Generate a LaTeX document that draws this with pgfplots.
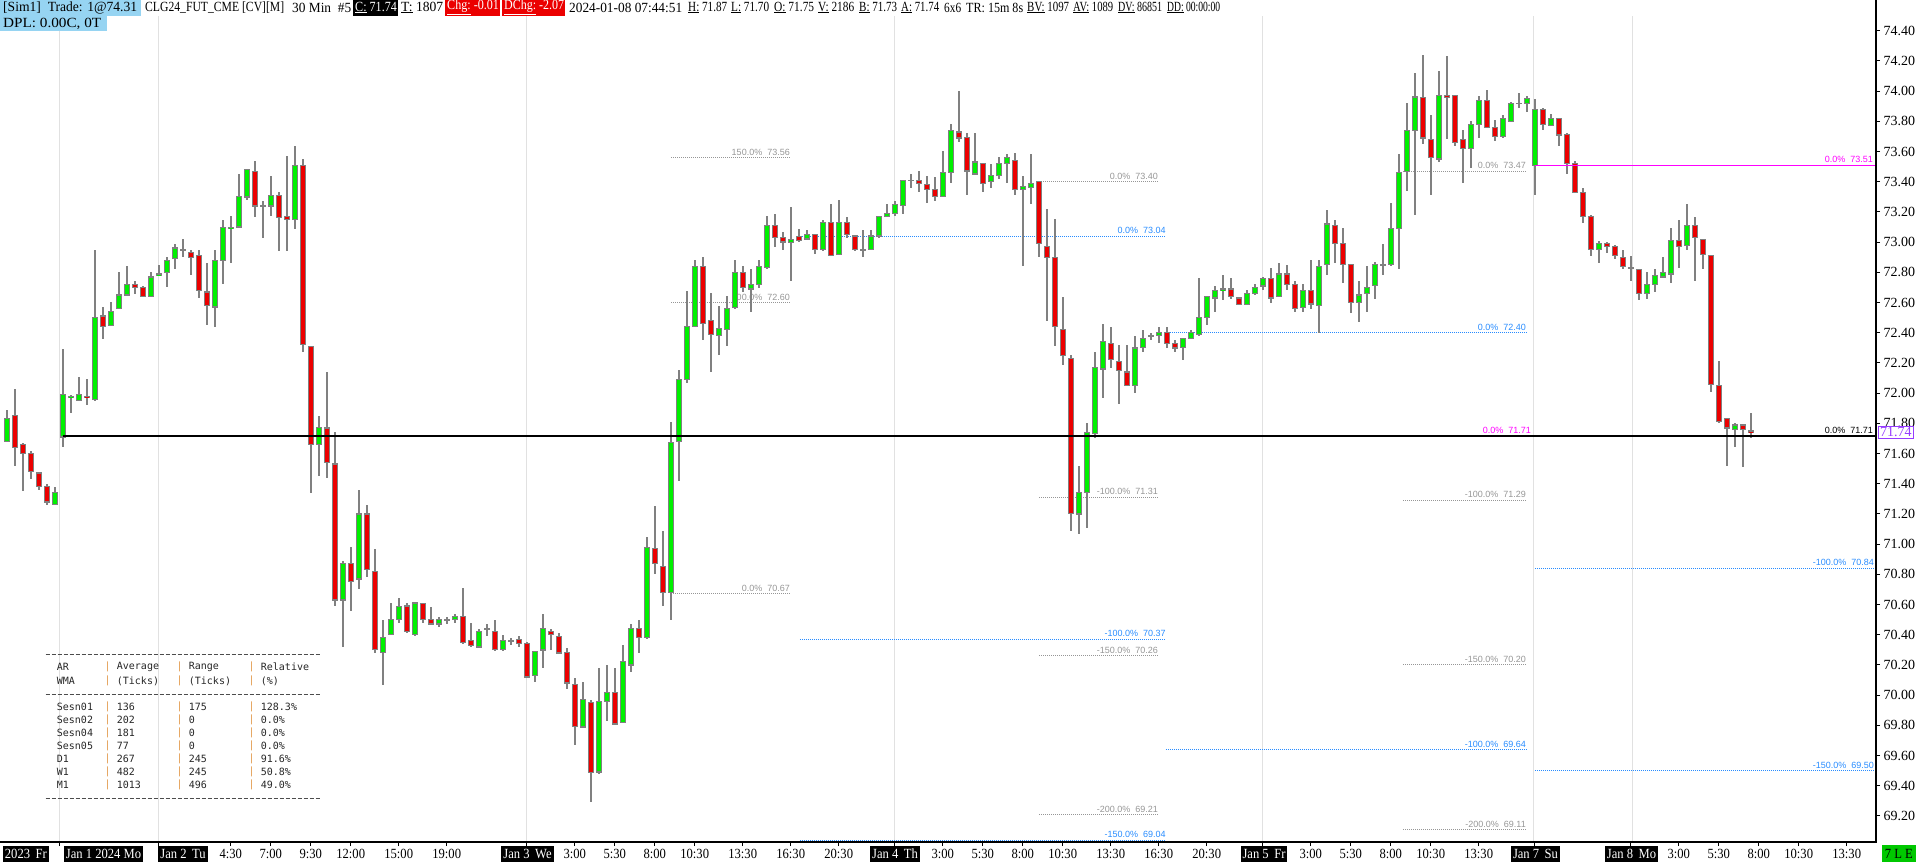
\documentclass[border=0pt]{standalone}
\usepackage{fontspec}
\setmainfont{Liberation Serif}
\setmonofont{DejaVu Sans Mono}
\newfontfamily\xlabfont[FakeStretch=0.9]{Liberation Serif}
\newfontfamily\fibfont{Liberation Sans}
\usepackage{graphicx}
\usepackage{pgfplots}
\usepackage{pgfplotstable}
\pgfplotsset{compat=1.18}

\definecolor{wick}{RGB}{128,128,128}
\definecolor{up}{RGB}{0,240,0}
\definecolor{dn}{RGB}{235,0,0}
\definecolor{fibgray}{RGB}{150,150,150}
\definecolor{fibblue}{RGB}{40,140,255}
\definecolor{mag}{RGB}{255,0,255}
\definecolor{hdrblue}{RGB}{150,212,242}
\definecolor{sepc}{RGB}{225,150,70}
\definecolor{gridc}{RGB}{225,225,225}
\definecolor{lastbox}{RGB}{150,60,255}
\definecolor{legreen}{RGB}{0,200,0}

% 30 min bars, index i = bar number
\pgfplotstableread{
i o h l c
0 71.68 71.89 71.68 71.83
1 71.85 72.03 71.52 71.64
2 71.66 71.67 71.35 71.60
3 71.60 71.62 71.43 71.48
4 71.47 71.47 71.36 71.38
5 71.38 71.40 71.26 71.28
6 71.26 71.38 71.26 71.34
7 71.71 72.29 71.64 71.99
8 71.97 71.99 71.87 71.98
9 71.95 72.11 71.95 71.99
10 71.98 72.09 71.92 71.97
11 71.96 72.95 71.95 72.50
12 72.51 72.57 72.36 72.44
13 72.45 72.60 72.45 72.54
14 72.56 72.80 72.56 72.65
15 72.65 72.84 72.65 72.72
16 72.72 72.74 72.66 72.70
17 72.70 72.71 72.64 72.64
18 72.64 72.80 72.64 72.77
19 72.78 72.85 72.78 72.79
20 72.80 72.90 72.70 72.88
21 72.89 72.99 72.82 72.96
22 72.95 73.02 72.90 72.95
23 72.93 72.95 72.78 72.90
24 72.91 72.95 72.63 72.68
25 72.67 72.86 72.45 72.58
26 72.57 72.95 72.44 72.88
27 72.88 73.15 72.72 73.10
28 73.09 73.17 72.86 73.10
29 73.10 73.45 73.09 73.30
30 73.30 73.48 73.28 73.48
31 73.47 73.54 73.17 73.24
32 73.24 73.27 73.03 73.24
33 73.24 73.44 73.17 73.31
34 73.31 73.33 72.94 73.16
35 73.17 73.57 72.94 73.15
36 73.15 73.64 73.09 73.51
37 73.51 73.55 72.27 72.32
38 72.31 72.31 71.34 71.66
39 71.66 71.85 71.45 71.77
40 71.77 72.14 71.44 71.54
41 71.53 71.74 70.59 70.63
42 70.63 70.89 70.32 70.87
43 70.87 70.98 70.56 70.75
44 70.77 71.36 70.70 71.20
45 71.20 71.26 70.78 70.83
46 70.82 70.97 70.28 70.30
47 70.28 70.50 70.07 70.38
48 70.40 70.61 70.40 70.50
49 70.50 70.64 70.48 70.59
50 70.59 70.61 70.41 70.42
51 70.40 70.61 70.39 70.61
52 70.61 70.61 70.48 70.50
53 70.50 70.58 70.47 70.47
54 70.47 70.52 70.45 70.50
55 70.50 70.52 70.47 70.50
56 70.50 70.54 70.48 70.52
57 70.52 70.71 70.34 70.35
58 70.36 70.48 70.32 70.33
59 70.32 70.44 70.32 70.42
60 70.44 70.47 70.39 70.44
61 70.42 70.50 70.29 70.30
62 70.30 70.40 70.29 70.36
63 70.36 70.38 70.33 70.36
64 70.37 70.39 70.32 70.34
65 70.34 70.35 70.12 70.12
66 70.13 70.29 70.09 70.29
67 70.30 70.54 70.18 70.44
68 70.42 70.44 70.30 70.40
69 70.39 70.41 70.27 70.28
70 70.28 70.31 70.04 70.08
71 70.07 70.11 69.67 69.79
72 69.79 70.09 69.79 69.97
73 69.95 69.97 69.29 69.49
74 69.49 70.18 69.48 69.96
75 69.96 70.20 69.83 70.02
76 70.02 70.18 69.80 69.81
77 69.82 70.33 69.82 70.22
78 70.20 70.47 70.15 70.44
79 70.44 70.50 70.28 70.38
80 70.38 71.05 70.37 70.98
81 70.97 71.25 70.80 70.87
82 70.85 71.09 70.59 70.68
83 70.68 71.81 70.50 71.67
84 71.68 72.15 71.42 72.09
85 72.09 72.68 72.07 72.44
86 72.44 72.88 72.44 72.84
87 72.84 72.90 72.35 72.46
88 72.48 72.66 72.14 72.39
89 72.38 72.58 72.25 72.43
90 72.42 72.64 72.31 72.56
91 72.57 72.88 72.56 72.80
92 72.80 72.84 72.67 72.70
93 72.69 72.82 72.54 72.72
94 72.72 72.88 72.70 72.84
95 72.83 73.17 72.82 73.11
96 73.11 73.19 72.97 73.03
97 73.03 73.07 72.95 73.00
98 73.00 73.23 72.74 73.02
99 73.04 73.09 73.00 73.01
100 73.02 73.08 73.02 73.05
101 73.05 73.05 72.92 72.95
102 72.95 73.15 72.94 73.13
103 73.13 73.25 72.91 72.91
104 72.92 73.28 72.92 73.13
105 73.13 73.17 73.03 73.05
106 73.04 73.04 72.94 72.95
107 72.95 73.08 72.90 72.95
108 72.95 73.08 72.95 73.04
109 73.04 73.17 73.03 73.17
110 73.17 73.25 73.17 73.19
111 73.19 73.27 73.17 73.25
112 73.24 73.41 73.19 73.41
113 73.41 73.45 73.36 73.41
114 73.41 73.47 73.33 73.39
115 73.38 73.44 73.26 73.35
116 73.35 73.43 73.27 73.30
117 73.30 73.60 73.30 73.46
118 73.46 73.78 73.39 73.74
119 73.73 74.00 73.66 73.69
120 73.69 73.72 73.31 73.47
121 73.45 73.72 73.45 73.53
122 73.52 73.52 73.33 73.39
123 73.40 73.52 73.36 73.44
124 73.44 73.56 73.42 73.52
125 73.52 73.58 73.39 73.56
126 73.54 73.59 73.31 73.35
127 73.35 73.44 72.84 73.37
128 73.36 73.58 73.25 73.39
129 73.40 73.40 72.90 72.99
130 72.97 73.22 72.48 72.90
131 72.90 73.15 72.31 72.44
132 72.42 72.64 72.19 72.25
133 72.23 72.25 71.09 71.20
134 71.20 71.52 71.07 71.34
135 71.34 71.80 71.11 71.74
136 71.73 72.27 71.70 72.17
137 72.16 72.46 71.97 72.34
138 72.33 72.44 72.17 72.22
139 72.21 72.32 71.93 72.15
140 72.14 72.32 72.05 72.05
141 72.05 72.38 72.00 72.30
142 72.30 72.42 72.27 72.36
143 72.38 72.40 72.35 72.38
144 72.38 72.44 72.33 72.40
145 72.40 72.44 72.30 72.33
146 72.33 72.35 72.27 72.30
147 72.30 72.36 72.22 72.36
148 72.36 72.42 72.36 72.40
149 72.39 72.76 72.38 72.50
150 72.50 72.64 72.45 72.64
151 72.63 72.71 72.54 72.68
152 72.68 72.78 72.62 72.69
153 72.69 72.76 72.62 72.64
154 72.63 72.63 72.59 72.59
155 72.59 72.68 72.59 72.66
156 72.66 72.72 72.65 72.70
157 72.71 72.77 72.68 72.76
158 72.76 72.83 72.60 72.63
159 72.64 72.86 72.64 72.79
160 72.79 72.85 72.68 72.72
161 72.72 72.74 72.54 72.56
162 72.57 72.72 72.54 72.68
163 72.68 72.88 72.56 72.59
164 72.58 72.88 72.40 72.84
165 72.85 73.21 72.78 73.12
166 73.11 73.15 72.86 72.99
167 72.99 73.09 72.73 72.85
168 72.85 72.85 72.53 72.60
169 72.60 72.74 72.47 72.65
170 72.66 72.84 72.54 72.70
171 72.71 72.87 72.62 72.85
172 72.85 72.99 72.78 72.85
173 72.85 73.26 72.84 73.09
174 73.09 73.58 72.82 73.46
175 73.47 73.92 73.34 73.74
176 73.74 74.12 73.18 73.96
177 73.96 74.24 73.65 73.69
178 73.68 73.84 73.31 73.56
179 73.55 74.13 73.53 73.97
180 73.97 74.23 73.68 73.96
181 73.97 73.97 73.64 73.66
182 73.68 73.74 73.39 73.62
183 73.62 73.80 73.49 73.78
184 73.78 73.97 73.69 73.94
185 73.94 74.01 73.76 73.76
186 73.76 73.81 73.67 73.70
187 73.70 73.84 73.69 73.82
188 73.80 73.93 73.80 73.92
189 73.92 73.99 73.89 73.92
190 73.92 73.97 73.86 73.95
191 73.51 73.95 73.31 73.88
192 73.88 73.89 73.74 73.78
193 73.77 73.85 73.77 73.82
194 73.82 73.82 73.64 73.71
195 73.71 73.72 73.45 73.52
196 73.52 73.54 73.33 73.33
197 73.33 73.36 73.13 73.17
198 73.17 73.18 72.91 72.95
199 72.95 73.01 72.86 72.99
200 72.99 73.00 72.93 72.97
201 72.97 72.98 72.89 72.91
202 72.90 72.95 72.82 72.84
203 72.83 72.91 72.74 72.83
204 72.82 72.82 72.62 72.66
205 72.66 72.80 72.62 72.72
206 72.72 72.82 72.67 72.78
207 72.77 72.90 72.77 72.80
208 72.79 73.09 72.73 73.01
209 73.01 73.15 72.83 72.97
210 72.98 73.25 72.95 73.11
211 73.11 73.17 72.74 73.03
212 73.02 73.02 72.82 72.92
213 72.91 72.91 72.01 72.06
214 72.05 72.21 71.80 71.81
215 71.83 71.83 71.52 71.77
216 71.76 71.80 71.64 71.79
217 71.79 71.79 71.51 71.76
218 71.75 71.87 71.70 71.74
}\candles

% dotted level line with its label: colour, x from, x to, price, text
\newcommand{\fibl}[5]{%
  \addplot[#1, line width=1pt, dash pattern=on 1pt off 1pt, mark=none, forget plot]
    coordinates {(#2,#4) (#3,#4)};
  \node[text=#1, font=\fibfont\fontsize{9}{9}\selectfont, anchor=south east,
        inner sep=0pt, yshift=2pt] at (axis cs:#3,#4) {#5};}
% header text squeezed to the width it takes on screen
\newcommand{\hw}[2]{\resizebox{#1pt}{\height}{#2}}

\begin{document}
\begin{tikzpicture}
\useasboundingbox (0,0) rectangle (1916pt,862pt);
\begin{axis}[
  at={(0pt,20pt)}, anchor=south west, scale only axis,
  width=1876pt, height=842pt,
  xmin=-0.8375, xmax=233.66, ymin=69.027, ymax=74.603,
  clip mode=individual,
  axis line style={draw=none},
  xtick={6.66,19,28,33,38,43,49,55,65,71,76,81,86,92,98,104,111,117,122,127,132,138,144,150,157,163,168,173,178,184,191,203,209,214,219,224,230},
  xticklabels={},
  ytick={69.2,69.4,69.6,69.8,70.0,70.2,70.4,70.6,70.8,71.0,71.2,71.4,71.6,71.8,72.0,72.2,72.4,72.6,72.8,73.0,73.2,73.4,73.6,73.8,74.0,74.2,74.4},
  xtick pos=bottom, ytick pos=right, yticklabel pos=right,
  tick align=outside, major tick length=4pt,
  tick style={black, line width=1pt},
  yticklabel style={font=\fontsize{14}{14}\selectfont,
    /pgf/number format/.cd, fixed, fixed zerofill, precision=2, assume math mode=true},
]
% day separators
\draw[gridc, line width=1pt] (axis cs:6.66,69.027) -- (axis cs:6.66,74.50);
\draw[gridc, line width=1pt] (axis cs:19,69.027) -- (axis cs:19,74.50);
\draw[gridc, line width=1pt] (axis cs:65,69.027) -- (axis cs:65,74.50);
\draw[gridc, line width=1pt] (axis cs:111,69.027) -- (axis cs:111,74.50);
\draw[gridc, line width=1pt] (axis cs:157,69.027) -- (axis cs:157,74.50);
\draw[gridc, line width=1pt] (axis cs:190.8,69.027) -- (axis cs:190.8,74.50);
\draw[gridc, line width=1pt] (axis cs:203.2,69.027) -- (axis cs:203.2,74.50);

\fibl{fibgray}{83.04}{97.91}{73.56}{150.0\%~~73.56}
\fibl{fibgray}{83.04}{97.91}{72.60}{100.0\%~~72.60}
\fibl{fibgray}{83.04}{97.91}{70.67}{0.0\%~~70.67}
\fibl{fibblue}{99.16}{144.9}{73.04}{0.0\%~~73.04}
\fibl{fibblue}{99.16}{144.9}{70.37}{-100.0\%~~70.37}
\fibl{fibblue}{99.16}{144.9}{69.04}{-150.0\%~~69.04}
\fibl{fibgray}{129.04}{143.91}{73.40}{0.0\%~~73.40}
\fibl{fibgray}{129.04}{143.91}{71.31}{-100.0\%~~71.31}
\fibl{fibgray}{129.04}{143.91}{70.26}{-150.0\%~~70.26}
\fibl{fibgray}{129.04}{143.91}{69.21}{-200.0\%~~69.21}
\fibl{fibblue}{144.9}{189.91}{72.40}{0.0\%~~72.40}
\fibl{fibblue}{144.9}{189.91}{69.64}{-100.0\%~~69.64}
\fibl{fibgray}{174.54}{189.91}{73.47}{0.0\%~~73.47}
\fibl{fibgray}{174.54}{189.91}{71.29}{-100.0\%~~71.29}
\fibl{fibgray}{174.54}{189.91}{70.20}{-150.0\%~~70.20}
\fibl{fibgray}{174.54}{189.91}{69.11}{-200.0\%~~69.11}
\fibl{fibblue}{191.04}{233.41}{70.84}{-100.0\%~~70.84}
\fibl{fibblue}{191.04}{233.41}{69.50}{-150.0\%~~69.50}

% wicks
\addplot[draw=none, mark=none, forget plot,
  error bars/.cd, y dir=both, y explicit, error mark=none,
  error bar style={draw=wick, line width=1.6pt}]
  table[x=i, y expr={(\thisrow{h}+\thisrow{l})/2}, y error expr={(\thisrow{h}-\thisrow{l})/2}] {\candles};
% body outline
\addplot[draw=none, mark=none, forget plot,
  error bars/.cd, y dir=both, y explicit, error mark=none,
  error bar style={draw=wick, line width=6pt}]
  table[x=i, y expr={(\thisrow{o}+\thisrow{c})/2}, y error expr={abs(\thisrow{o}-\thisrow{c})/2+0.004}] {\candles};
% up bodies
\addplot[draw=none, mark=none, forget plot,
  restrict expr to domain={\thisrow{c}-\thisrow{o}}{0.005:10},
  error bars/.cd, y dir=both, y explicit, error mark=none,
  error bar style={draw=up, line width=3.6pt}]
  table[x=i, y expr={(\thisrow{o}+\thisrow{c})/2}, y error expr={max(abs(\thisrow{o}-\thisrow{c})/2-0.004,0)}] {\candles};
% down bodies
\addplot[draw=none, mark=none, forget plot,
  restrict expr to domain={\thisrow{c}-\thisrow{o}}{-10:-0.005},
  error bars/.cd, y dir=both, y explicit, error mark=none,
  error bar style={draw=dn, line width=3.6pt}]
  table[x=i, y expr={(\thisrow{o}+\thisrow{c})/2}, y error expr={max(abs(\thisrow{o}-\thisrow{c})/2-0.004,0)}] {\candles};

\addplot[black, line width=1.6pt, mark=none, forget plot] coordinates {(7,71.715) (233.66,71.715)};
\addplot[mag, line width=1pt, mark=none, forget plot] coordinates {(191,73.51) (233.66,73.51)};
\node[text=mag, font=\fibfont\fontsize{9}{9}\selectfont, anchor=south east, inner sep=0pt, yshift=2pt] at (axis cs:233.29,73.51) {0.0\%~~73.51};
\node[text=mag, font=\fibfont\fontsize{9}{9}\selectfont, anchor=south east, inner sep=0pt, yshift=2pt] at (axis cs:190.54,71.715) {0.0\%~~71.71};
\node[text=black, font=\fibfont\fontsize{9}{9}\selectfont, anchor=south east, inner sep=0pt, yshift=2pt] at (axis cs:233.29,71.715) {0.0\%~~71.71};

\draw[black, line width=1.2pt] (rel axis cs:0,0) -- (rel axis cs:1,0) -- (rel axis cs:1,1);
\end{axis}

% last price box on the price scale
\node[draw=lastbox, fill=white, text=lastbox, font=\fontsize{14}{14}\selectfont,
      inner xsep=1.5pt, inner ysep=1.5pt, anchor=west, line width=1pt] at (1878pt,429.7pt) {71.74};

% time axis labels
\foreach \i/\t in {28/4:30, 33/7:00, 38/9:30, 43/12:00, 49/15:00, 55/19:00,
  71/3:00, 76/5:30, 81/8:00, 86/10:30, 92/13:30, 98/16:30, 104/20:30,
  117/3:00, 122/5:30, 127/8:00, 132/10:30, 138/13:30, 144/16:30, 150/20:30,
  163/3:00, 168/5:30, 173/8:00, 178/10:30, 184/13:30,
  209/3:00, 214/5:30, 219/8:00, 224/10:30, 230/13:30}
  \node[font=\xlabfont\fontsize{14}{14}\selectfont, inner sep=0pt] at ({(6.7+8*\i)*1pt},8.5pt) {\t};
\tikzset{datebox/.style={fill=black, text=white, font=\xlabfont\fontsize{14}{14}\selectfont,
  inner xsep=2pt, inner ysep=0pt, minimum height=16pt}}
\node[datebox, anchor=east] at (49pt,8.5pt) {2023~\,Fr};
\node[datebox] at (103.5pt,8.5pt) {Jan 1 2024 Mo};
\node[datebox] at (183pt,8.5pt) {Jan 2~\,Tu};
\node[datebox] at (527.5pt,8.5pt) {Jan 3~\,We};
\node[datebox] at (895pt,8.5pt) {Jan 4~\,Th};
\node[datebox] at (1264pt,8.5pt) {Jan 5~\,Fr};
\node[datebox] at (1535.5pt,8.5pt) {Jan 7~\,Su};
\node[datebox] at (1631.5pt,8.5pt) {Jan 8~\,Mo};
\node[fill=legreen, text=black, font=\xlabfont\fontsize{14}{14}\selectfont, anchor=east,
      inner xsep=3pt, inner ysep=0pt, minimum height=17pt] at (1916pt,8.5pt) {7 L E};

% header line
\fill[hdrblue] (0pt,846pt) rectangle (141pt,862pt);
\fill[hdrblue] (0pt,831pt) rectangle (107pt,846pt);
\fill[black] (353pt,846pt) rectangle (398pt,862pt);
\fill[dn] (445pt,846pt) rectangle (500pt,862pt);
\fill[dn] (502pt,846pt) rectangle (565pt,862pt);
\tikzset{hdr/.style={font=\fontsize{14}{14}\selectfont, anchor=west, inner sep=0pt}}
\foreach \x/\w/\t in {3/134/{[Sim1]\ \ Trade: 1@74.31}, 145/139/{CLG24\_FUT\_CME [CV][M]},
  292/59/{30 Min\ \ \#5}, 401/42/{\underline{T:} 1807},
  569/113/{2024-01-08 07:44:51},
  688/39/{\underline{H:} 71.87}, 731/38/{\underline{L:} 71.70}, 774/40/{\underline{O:} 71.75},
  818/36/{\underline{V:} 2186}, 859/38/{\underline{B:} 71.73}, 901/38/{\underline{A:} 71.74},
  944/17/{6x6}, 966/57/{TR: 15m 8s}, 1027/42/{\underline{BV:} 1097}, 1073/40/{\underline{AV:} 1089},
  1118/44/{\underline{DV:} 86851}, 1167/53/{\underline{DD:} 00:00:00}}
  \node[hdr] at (\x pt,854.5pt) {\hw{\w}{\t}};
\node[hdr, text=white] at (355pt,854.5pt) {\hw{41.7}{\underline{C:} 71.74}};
\node[hdr, text=white] at (447pt,854.5pt) {\hw{51.8}{\underline{Chg:} -0.01}};
\node[hdr, text=white] at (504pt,854.5pt) {\hw{60}{\underline{DChg:} -2.07}};
\node[hdr] at (3pt,838.5pt) {\hw{98}{DPL: 0.00C, 0T}};

% average range table
\draw[black!70, line width=1pt, dash pattern=on 4pt off 2pt] (45.7pt,207pt) -- (320pt,207pt);
\draw[black!70, line width=1pt, dash pattern=on 4pt off 2pt] (45.7pt,167.5pt) -- (320pt,167.5pt);
\draw[black!70, line width=1pt, dash pattern=on 4pt off 2pt] (45.7pt,64pt) -- (320pt,64pt);
\tikzset{tb/.style={font=\ttfamily\fontsize{10}{10}\selectfont, anchor=west, inner sep=0pt, text=black!85}}
\foreach \y/\a/\b/\c/\d in {195/AR/Average/Range/Relative, 181/WMA/(Ticks)/(Ticks)/(\%),
  155/Sesn01/136/175/128.3\%, 142/Sesn02/202/0/0.0\%, 129/Sesn04/181/0/0.0\%,
  116/Sesn05/77/0/0.0\%, 103/D1/267/245/91.6\%, 90/W1/482/245/50.8\%, 77/M1/1013/496/49.0\%}
{
  \node[tb] at (56.7pt,\y pt) {\a};
  \node[tb] at (116.7pt,\y pt) {\b};
  \node[tb] at (188.7pt,\y pt) {\c};
  \node[tb] at (260.7pt,\y pt) {\d};
  \node[tb, text=sepc, anchor=center] at (107.7pt,\y pt) {|};
  \node[tb, text=sepc, anchor=center] at (179.7pt,\y pt) {|};
  \node[tb, text=sepc, anchor=center] at (251.7pt,\y pt) {|};
}
\end{tikzpicture}
\end{document}
